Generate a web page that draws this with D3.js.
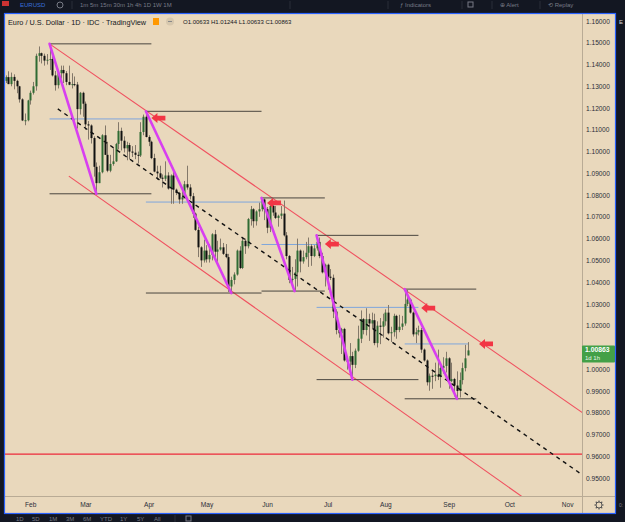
<!DOCTYPE html>
<html>
<head>
<meta charset="utf-8">
<script src="https://cdn.jsdelivr.net/npm/d3@7/dist/d3.min.js"></script>
<style>
  html, body { margin: 0; padding: 0; background: #131722; }
  svg { display: block; font-family: "Liberation Sans", Arial, sans-serif; }
</style>
</head>
<body>
<div id="chart"></div>
<script>
// EUR/USD daily candles, 19 Jan -> 12 Sep 2022 (one value per trading day)
const firstBar = "2022-01-19";
const lastAxisDay = "2022-12-01";

const opens = [
  1.1325,1.1342,1.1310,1.1343,1.1325,1.1300,1.1240,1.1143,1.1144,
  1.1235,1.1270,1.1300,1.1440,1.1452,1.1440,1.1418,1.1422,1.1425,1.1350,1.1305,1.1360,1.1375,1.1360,1.1320,1.1307,1.1310,1.1308,1.1195,1.1270,
  1.1220,1.1125,1.1120,1.1062,1.0930,1.0855,1.0905,1.1075,1.0985,1.0912,1.0943,1.0955,1.1035,1.1095,1.1050,1.1015,1.1030,1.1000,1.0995,1.0985,1.0982,1.1090,1.1160,
  1.1067,1.1045,1.0970,1.0908,1.0900,1.0880,1.0875,1.0890,1.0830,1.0890,1.0825,1.0810,1.0780,1.0790,1.0850,1.0835,1.0795,1.0715,1.0640,1.0560,1.0500,
  1.0545,1.0505,1.0525,1.0620,1.0540,1.0550,1.0560,1.0530,1.0515,1.0380,1.0410,1.0435,1.0545,1.0465,1.0590,1.0565,1.0690,1.0735,1.0680,1.0725,1.0735,1.0780,
  1.0735,1.0650,1.0750,1.0720,1.0695,1.0705,1.0715,1.0615,1.0520,1.0410,1.0415,1.0445,1.0545,1.0495,1.0515,1.0535,1.0565,1.0520,1.0555,1.0585,1.0520,1.0445,
  1.0480,1.0425,1.0420,1.0265,1.0180,1.0165,1.0185,1.0040,1.0035,1.0060,1.0020,1.0085,1.0140,1.0230,1.0180,1.0230,1.0210,1.0225,1.0120,1.0200,1.0195,
  1.0220,1.0260,1.0165,1.0170,1.0245,1.0180,1.0195,1.0210,1.0300,1.0320,1.0260,1.0160,1.0170,1.0180,1.0090,1.0040,0.9940,0.9970,0.9968,0.9975,0.9965,1.0005,1.0015,
  1.0050,0.9945,0.9955,0.9925,0.9900,0.9950,1.0005,1.00633
];
const highs = [
  1.1350,1.1369,1.1363,1.1355,1.1330,1.1302,1.1245,1.1175,1.1238,
  1.1280,1.1320,1.1450,1.1483,1.1455,1.1450,1.1448,1.1495,1.1440,1.1370,1.1370,1.1395,1.1395,1.1370,1.1395,1.1360,1.1345,1.1320,1.1274,1.1275,
  1.1230,1.1140,1.1125,1.1070,1.0950,1.0935,1.1080,1.1120,1.1045,1.0985,1.1015,1.1040,1.1135,1.1110,1.1070,1.1045,1.1040,1.1025,1.1030,1.1000,1.1135,1.1170,1.1185,
  1.1075,1.1050,1.0990,1.0935,1.0935,1.0895,1.0955,1.0905,1.0895,1.0925,1.0830,1.0815,1.0825,1.0865,1.0935,1.0850,1.0810,1.0720,1.0655,1.0565,1.0595,
  1.0570,1.0575,1.0625,1.0640,1.0590,1.0600,1.0580,1.0575,1.0530,1.0425,1.0445,1.0550,1.0565,1.0605,1.0600,1.0695,1.0750,1.0740,1.0730,1.0765,1.0787,1.0785,
  1.0745,1.0755,1.0765,1.0750,1.0710,1.0750,1.0775,1.0630,1.0525,1.0470,1.0505,1.0600,1.0550,1.0545,1.0585,1.0605,1.0575,1.0570,1.0615,1.0605,1.0535,1.0485,
  1.0485,1.0460,1.0435,1.0275,1.0200,1.0190,1.0190,1.0060,1.0120,1.0080,1.0095,1.0200,1.0270,1.0235,1.0280,1.0255,1.0260,1.0255,1.0220,1.0235,1.0255,
  1.0275,1.0295,1.0195,1.0255,1.0250,1.0250,1.0245,1.0368,1.0365,1.0325,1.0265,1.0190,1.0200,1.0190,1.0095,1.0045,0.9980,0.9995,1.0030,1.0090,1.0025,1.0055,1.0080,
  1.0055,1.0030,0.9960,0.9990,0.9985,1.0030,1.0112,1.01244
];
const lows = [
  1.1315,1.1310,1.1300,1.1286,1.1268,1.1225,1.1140,1.1121,1.1139,
  1.1216,1.1262,1.1280,1.1413,1.1405,1.1395,1.1400,1.1375,1.1345,1.1280,1.1290,1.1335,1.1315,1.1305,1.1305,1.1290,1.1300,1.1106,1.1170,1.1160,
  1.1100,1.1055,1.1037,1.0885,1.0806,1.0855,1.0900,1.0985,1.0905,1.0905,1.0935,1.0952,1.1010,1.1005,1.0996,1.0960,1.0965,1.0975,1.0965,1.0945,1.0975,1.1075,1.1065,
  1.1025,1.0965,1.0905,1.0870,1.0875,1.0835,1.0865,1.0825,1.0760,1.0760,1.0800,1.0760,1.0760,1.0785,1.0825,1.0780,1.0695,1.0635,1.0515,1.0470,1.0490,
  1.0490,1.0490,1.0500,1.0495,1.0480,1.0545,1.0525,1.0510,1.0355,1.0350,1.0390,1.0430,1.0460,1.0460,1.0530,1.0555,1.0660,1.0650,1.0660,1.0700,1.0725,1.0685,
  1.0625,1.0630,1.0705,1.0690,1.0655,1.0690,1.0610,1.0505,1.0395,1.0395,1.0359,1.0380,1.0445,1.0485,1.0505,1.0470,1.0475,1.0515,1.0545,1.0510,1.0440,1.0380,
  1.0365,1.0410,1.0235,1.0160,1.0145,1.0070,1.0035,0.9998,0.9998,0.9952,1.0005,1.0080,1.0120,1.0160,1.0155,1.0130,1.0185,1.0110,1.0100,1.0115,1.0145,
  1.0200,1.0160,1.0125,1.0150,1.0140,1.0170,1.0180,1.0200,1.0290,1.0255,1.0150,1.0120,1.0155,1.0075,1.0035,0.9925,0.9901,0.9910,0.9945,0.9950,0.9915,0.9980,0.9985,
  0.9910,0.9940,0.9875,0.9864,0.9870,0.9930,0.9990,1.00633
];
const closes = [
  1.1342,1.1310,1.1343,1.1325,1.1300,1.1240,1.1143,1.1144,1.1235,
  1.1270,1.1300,1.1440,1.1452,1.1440,1.1418,1.1422,1.1425,1.1350,1.1305,1.1360,1.1375,1.1360,1.1320,1.1307,1.1310,1.1308,1.1195,1.1270,1.1220,
  1.1125,1.1120,1.1062,1.0930,1.0855,1.0905,1.1075,1.0985,1.0912,1.0943,1.0955,1.1035,1.1095,1.1050,1.1015,1.1030,1.1000,1.0995,1.0985,1.0982,1.1090,1.1160,1.1067,
  1.1045,1.0970,1.0908,1.0900,1.0880,1.0875,1.0890,1.0830,1.0890,1.0825,1.0810,1.0780,1.0790,1.0850,1.0835,1.0795,1.0715,1.0640,1.0560,1.0500,1.0545,
  1.0505,1.0525,1.0620,1.0540,1.0550,1.0560,1.0530,1.0515,1.0380,1.0410,1.0435,1.0545,1.0465,1.0590,1.0565,1.0690,1.0735,1.0680,1.0725,1.0735,1.0780,1.0735,
  1.0650,1.0750,1.0720,1.0695,1.0705,1.0715,1.0615,1.0520,1.0410,1.0415,1.0445,1.0545,1.0495,1.0515,1.0535,1.0565,1.0520,1.0555,1.0585,1.0520,1.0445,1.0480,
  1.0425,1.0420,1.0265,1.0180,1.0165,1.0185,1.0040,1.0035,1.0060,1.0020,1.0085,1.0140,1.0230,1.0180,1.0230,1.0210,1.0225,1.0120,1.0200,1.0195,1.0220,
  1.0260,1.0165,1.0170,1.0245,1.0180,1.0195,1.0210,1.0300,1.0320,1.0260,1.0160,1.0170,1.0180,1.0090,1.0040,0.9940,0.9970,0.9968,0.9975,0.9965,1.0005,1.0015,1.0050,
  0.9945,0.9955,0.9925,0.9900,0.9950,1.0005,1.0050,1.00863
];

// 1.01000 sits behind the last-price label, so it is not listed
const priceTicks = [1.16,1.15,1.14,1.13,1.12,1.11,1.10,1.09,1.08,1.07,1.06,1.05,1.04,1.03,1.02,1.00,0.99,0.98,0.97,0.96,0.95];
const monthLabels = ["Feb","Mar","Apr","May","Jun","Jul","Aug","Sep","Oct","Nov"];
const monthNumbers = [1,2,3,4,5,6,7,8,9,10];

// drawings (anchored on date / price)
const swingLegs = [   // magenta zigzag
  ["2022-02-10",1.1495,"2022-03-07",1.0806],
  ["2022-03-31",1.1185,"2022-05-13",1.0350],
  ["2022-05-30",1.0787,"2022-06-15",1.0359],
  ["2022-06-27",1.0615,"2022-07-14",0.9952],
  ["2022-08-10",1.0368,"2022-09-06",0.9864]
];
const rangeLevels = [ // dark horizontal lines: from, to, price
  ["2022-02-10","2022-04-04",1.1495],
  ["2022-02-10","2022-04-04",1.0806],
  ["2022-03-31","2022-05-30",1.1185],
  ["2022-03-31","2022-05-30",1.0350],
  ["2022-05-30","2022-06-30",1.0787],
  ["2022-05-30","2022-06-30",1.0359],
  ["2022-06-27","2022-08-17",1.0615],
  ["2022-06-27","2022-08-17",0.9952],
  ["2022-08-10","2022-09-15",1.0368],
  ["2022-08-10","2022-09-15",0.9864]
];
const midLevels = [   // blue half-range lines
  ["2022-02-10","2022-03-31",1.1150],
  ["2022-03-31","2022-05-30",1.0768],
  ["2022-05-30","2022-06-28",1.0573],
  ["2022-06-27","2022-08-17",1.0284],
  ["2022-08-10","2022-09-12",1.0116]
];
const arrowMarks = [
  ["2022-04-04",1.1154],
  ["2022-06-01",1.0764],
  ["2022-06-30",1.0575],
  ["2022-08-18",1.0281],
  ["2022-09-16",1.0116]
];
// trend lines: two anchors, drawn from the first and extended right
const channelTop = ["2022-02-10",1.1495,"2022-09-12",1.0164];
const channelBottom = ["2022-02-21",1.0887,"2022-09-12",0.9590];
const midTrend = ["2022-02-15",1.1196,"2022-09-12",0.9881];
const supportLevel = 0.9610;

const lastPrice = "1.00863";
const legendTitle = "Euro / U.S. Dollar · 1D · IDC · TradingView";
const legendOhlc = "O1.00633 H1.01244 L1.00633 C1.00863";

// ---------------------------------------------------------------
const W = 625, H = 522;
const plot = { left: 5, right: 582, top: 14, bottom: 496 };

const parse = d3.utcParse("%Y-%m-%d");
const tradingDays = d3.utcDays(parse(firstBar), parse(lastAxisDay))
  .filter(d => d.getUTCDay() !== 0 && d.getUTCDay() !== 6);
const idx = s => tradingDays.findIndex(d => +d === +parse(s));

const bars = closes.map((c, i) => ({ i, o: opens[i], h: highs[i], l: lows[i], c }));

const x = d3.scaleLinear().domain([0, 204]).range([5.5, 567.1]);
const y = d3.scaleLinear().domain([0.95, 1.16]).range([478, 21]);

const svg = d3.select("#chart").append("svg")
  .attr("width", W).attr("height", H)
  .attr("viewBox", [0, 0, W, H]);

// app chrome
svg.append("rect").attr("width", W).attr("height", H).attr("fill", "#131722");
svg.append("rect")
  .attr("x", plot.left).attr("y", plot.top)
  .attr("width", 611).attr("height", 499)
  .attr("fill", "#e9d8bc");

svg.append("clipPath").attr("id", "plot-clip")
  .append("rect")
  .attr("x", plot.left).attr("y", plot.top)
  .attr("width", plot.right - plot.left).attr("height", plot.bottom - plot.top);

const g = svg.append("g").attr("clip-path", "url(#plot-clip)");

// trend lines extended to the right edge
function extended(line, toIndex) {
  const i1 = idx(line[0]), i2 = idx(line[2]);
  const slope = (line[3] - line[1]) / (i2 - i1);
  return [[x(i1), y(line[1])], [x(toIndex), y(line[1] + slope * (toIndex - i1))]];
}

const lineGen = d3.line();

g.append("path")
  .attr("d", lineGen(extended(channelTop, 230)))
  .attr("stroke", "#f0505f").attr("stroke-width", 1.1).attr("fill", "none");
g.append("path")
  .attr("d", lineGen(extended(channelBottom, 230)))
  .attr("stroke", "#f0505f").attr("stroke-width", 1.1).attr("fill", "none");
g.append("line")
  .attr("x1", plot.left).attr("x2", plot.right)
  .attr("y1", y(supportLevel)).attr("y2", y(supportLevel))
  .attr("stroke", "#ec2a3a").attr("stroke-width", 1.3);

// horizontal range lines
g.selectAll(".range").data(rangeLevels).enter().append("line")
  .attr("class", "range")
  .attr("x1", d => x(idx(d[0]))).attr("x2", d => x(idx(d[1])))
  .attr("y1", d => y(d[2])).attr("y2", d => y(d[2]))
  .attr("stroke", "#4a463f").attr("stroke-width", 1);

g.selectAll(".mid").data(midLevels).enter().append("line")
  .attr("class", "mid")
  .attr("x1", d => x(idx(d[0]))).attr("x2", d => x(idx(d[1])))
  .attr("y1", d => y(d[2])).attr("y2", d => y(d[2]))
  .attr("stroke", "#7fa6dc").attr("stroke-width", 1);

// candles
const candle = g.selectAll(".bar").data(bars).enter().append("g").attr("class", "bar");
candle.append("line")
  .attr("x1", d => Math.round(x(d.i)) + 0.5).attr("x2", d => Math.round(x(d.i)) + 0.5)
  .attr("y1", d => y(d.h)).attr("y2", d => y(d.l))
  .attr("stroke", "#83786a").attr("stroke-width", 1);
candle.append("rect")
  .attr("x", d => Math.round(x(d.i)) - 0.5)
  .attr("width", 2)
  .attr("y", d => y(Math.max(d.o, d.c)))
  .attr("height", d => Math.max(1, Math.abs(y(d.o) - y(d.c))))
  .attr("fill", d => d.c >= d.o ? "#2f6b33" : "#111111");

// dashed trend
g.append("path")
  .attr("d", lineGen(extended(midTrend, 230)))
  .attr("stroke", "#111").attr("stroke-width", 1.4)
  .attr("stroke-dasharray", "4,4").attr("fill", "none");

// magenta legs
g.selectAll(".leg").data(swingLegs).enter().append("line")
  .attr("class", "leg")
  .attr("x1", d => x(idx(d[0]))).attr("y1", d => y(d[1]))
  .attr("x2", d => x(idx(d[2]))).attr("y2", d => y(d[3]))
  .attr("stroke", "#d83ff0").attr("stroke-width", 2.6)
  .attr("stroke-linecap", "round");

// arrows pointing left
const arrowShape = [[0,0],[6,-5],[6,-2.4],[14,-2.4],[14,2.4],[6,2.4],[6,5]];
g.selectAll(".arrow").data(arrowMarks).enter().append("polygon")
  .attr("class", "arrow")
  .attr("points", d => {
    const ax = x(idx(d[0])), ay = y(d[1]);
    return arrowShape.map(p => [ax + p[0], ay + p[1]].join(",")).join(" ");
  })
  .attr("fill", "#f23645");

// axes separators
svg.append("line").attr("x1", plot.right + 0.5).attr("x2", plot.right + 0.5)
  .attr("y1", plot.top).attr("y2", 513).attr("stroke", "#b9ab95");
svg.append("line").attr("x1", plot.left).attr("x2", 615)
  .attr("y1", plot.bottom + 0.5).attr("y2", plot.bottom + 0.5).attr("stroke", "#b9ab95");

// price axis
const yAxis = svg.append("g")
  .attr("transform", `translate(${plot.right + 4},0)`)
  .call(d3.axisRight(y).tickValues(priceTicks).tickFormat(d3.format(".5f")).tickSize(0).tickPadding(0));
yAxis.select(".domain").remove();
yAxis.selectAll("text").attr("font-size", 6.6).attr("fill", "#2a2e39")
  .attr("font-family", "Liberation Sans, Arial, sans-serif");

// time axis
const monthIdx = monthNumbers.map(m => tradingDays.findIndex(d => d.getUTCMonth() === m));
const xAxis = svg.append("g")
  .attr("transform", `translate(0,${plot.bottom})`)
  .call(d3.axisBottom(x).tickValues(monthIdx).tickFormat((d, i) => monthLabels[i]).tickSize(0).tickPadding(6));
xAxis.select(".domain").remove();
xAxis.selectAll("text").attr("font-size", 6.6).attr("fill", "#2a2e39")
  .attr("font-family", "Liberation Sans, Arial, sans-serif");

// last price label
const lp = y(+lastPrice);
svg.append("rect").attr("x", 582).attr("y", lp - 5).attr("width", 33).attr("height", 17)
  .attr("fill", "#43a047").attr("rx", 1);
svg.append("text").attr("x", 585).attr("y", lp + 2).text(lastPrice)
  .attr("font-size", 6.8).attr("font-weight", "bold").attr("fill", "#fff");
svg.append("text").attr("x", 585).attr("y", lp + 9.5).text("1d 1h")
  .attr("font-size", 6).attr("fill", "#e8f5e9");

// gear icon in the axis corner
const gear = svg.append("g").attr("transform", "translate(599,505)");
gear.append("circle").attr("r", 3).attr("fill", "none").attr("stroke", "#555").attr("stroke-width", 1);
d3.range(0, 360, 45).forEach(a => {
  const r = a * Math.PI / 180;
  gear.append("line")
    .attr("x1", Math.cos(r) * 3).attr("y1", Math.sin(r) * 3)
    .attr("x2", Math.cos(r) * 4.6).attr("y2", Math.sin(r) * 4.6)
    .attr("stroke", "#555").attr("stroke-width", 1.1);
});

// legend
svg.append("text").attr("x", 8).attr("y", 24.5).text(legendTitle)
  .attr("font-size", 7.3).attr("fill", "#131722");
svg.append("rect").attr("x", 153).attr("y", 18).attr("width", 6).attr("height", 7).attr("fill", "#ff9800");
svg.append("circle").attr("cx", 170).attr("cy", 21.5).attr("r", 4).attr("fill", "#d6c7ad");
svg.append("line").attr("x1", 168).attr("x2", 172).attr("y1", 21.5).attr("y2", 21.5).attr("stroke", "#888");
svg.append("text").attr("x", 183).attr("y", 24).text(legendOhlc)
  .attr("font-size", 6).attr("fill", "#131722");

// panel border
svg.append("rect").attr("x", 4.5).attr("y", 13.5).attr("width", 611).attr("height", 500)
  .attr("fill", "none").attr("stroke", "#2962ff").attr("stroke-width", 1.2);

// top toolbar
const topBar = svg.append("g").attr("font-size", 6).attr("fill", "#787b86");
topBar.append("rect").attr("x", 2).attr("y", 1).attr("width", 7).attr("height", 5).attr("fill", "#c33");
topBar.append("text").attr("x", 20).attr("y", 7).attr("fill", "#3a6fd8").text("EURUSD");
topBar.append("circle").attr("cx", 60).attr("cy", 5).attr("r", 3).attr("fill", "none").attr("stroke", "#787b86");
topBar.append("text").attr("x", 80).attr("y", 7).text("1m   5m   15m   30m   1h   4h   1D   1W   1M");
[72, 290, 388, 462, 492, 540].forEach(px => topBar.append("line")
  .attr("x1", px).attr("x2", px).attr("y1", 1).attr("y2", 9).attr("stroke", "#2a2e39"));
topBar.append("text").attr("x", 400).attr("y", 7).text("ƒ  Indicators");
topBar.append("rect").attr("x", 468).attr("y", 2).attr("width", 5).attr("height", 5)
  .attr("fill", "none").attr("stroke", "#787b86");
topBar.append("text").attr("x", 500).attr("y", 7).text("⊕ Alert");
topBar.append("text").attr("x", 548).attr("y", 7).text("⟲ Replay");

// bottom toolbar
const bottomLabels = ["1D","5D","1M","3M","6M","YTD","1Y","5Y","All"];
const bottomX = [16, 32, 49, 66, 83, 100, 120, 137, 154];
svg.append("g").selectAll("text").data(bottomLabels).enter().append("text")
  .attr("x", (d, i) => bottomX[i]).attr("y", 521).text(d => d)
  .attr("font-size", 6).attr("fill", "#787b86");
svg.append("line").attr("x1", 175).attr("x2", 175).attr("y1", 515).attr("y2", 522).attr("stroke", "#2a2e39");
svg.append("rect").attr("x", 186).attr("y", 516).attr("width", 5).attr("height", 5)
  .attr("fill", "none").attr("stroke", "#787b86");

// neighbour panel edge on the right
svg.append("text").attr("x", 619).attr("y", 24).text("E").attr("font-size", 6).attr("fill", "#d1d4dc");
svg.append("text").attr("x", 619).attr("y", 507).text("0:").attr("font-size", 5).attr("fill", "#787b86");
</script>
</body>
</html>
